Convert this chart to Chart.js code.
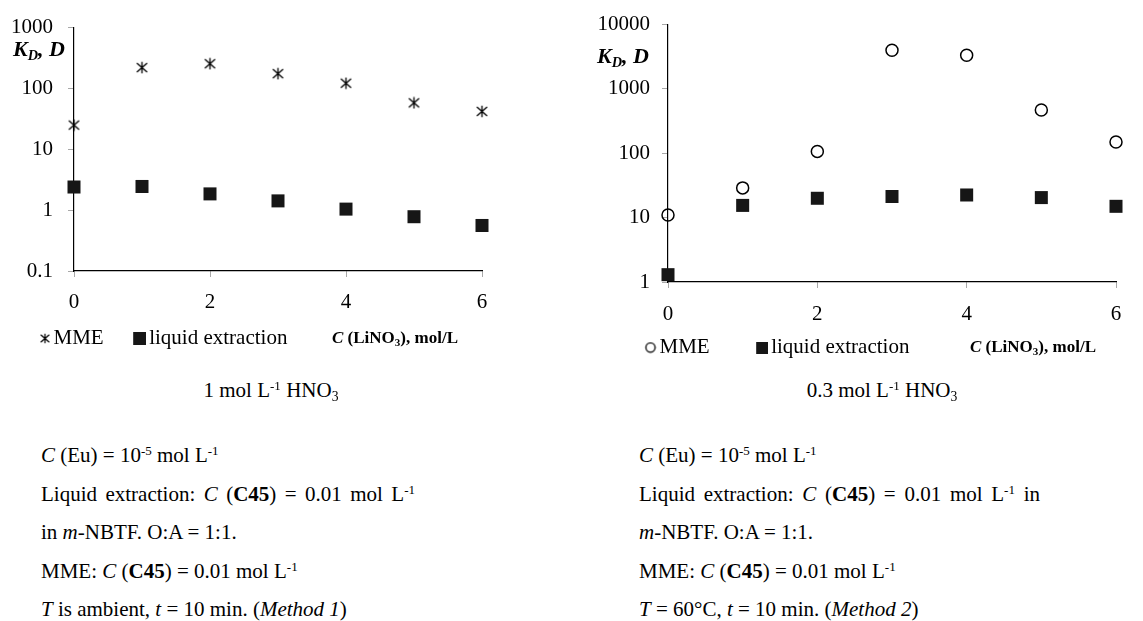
<!DOCTYPE html>
<html><head><meta charset="utf-8">
<script src="https://cdn.jsdelivr.net/npm/chart.js@4.4.1/dist/chart.umd.min.js"></script>
<style>
html,body{margin:0;padding:0;background:#fff;}
body{width:1143px;height:621px;position:relative;overflow:hidden;font-family:"Liberation Serif",serif;color:#000;}
canvas{position:absolute;}
.t{position:absolute;white-space:nowrap;font-size:21px;line-height:21px;}
sup{font-size:0.62em;line-height:0;vertical-align:baseline;position:relative;top:-0.55em;}
sub{font-size:0.65em;line-height:0;vertical-align:baseline;position:relative;top:0.3em;}
.ylab{font-weight:bold;font-style:italic;font-size:22px;line-height:22px;}
.xlab{font-weight:bold;font-size:17px;line-height:17px;}
.cap{text-align:center;width:400px;}
.notes{position:absolute;font-size:21px;line-height:38.5px;white-space:nowrap;}
.just{text-align:justify;text-align-last:justify;white-space:normal;}
</style></head>
<body>
<canvas id="c1" width="554" height="359" style="left:6px;top:0"></canvas>
<canvas id="c2" width="553" height="368" style="left:590px;top:0"></canvas>

<div class="t ylab" style="left:13px;top:37.6px"><b>K<sub>D</sub>, D</b></div>
<div class="t ylab" style="left:597px;top:45px"><b>K<sub>D</sub>, D</b></div>

<div class="t xlab" style="left:332px;top:329px"><i>C</i> (LiNO<sub>3</sub>), mol/L</div>
<div class="t xlab" style="left:970px;top:337.5px"><i>C</i> (LiNO<sub>3</sub>), mol/L</div>

<div class="t cap" style="left:71px;top:380.4px">1 mol L<sup>-1</sup> HNO<sub>3</sub></div>
<div class="t cap" style="left:682px;top:380.4px">0.3 mol L<sup>-1</sup> HNO<sub>3</sub></div>

<div class="notes" style="left:41px;top:436.4px">
<div><i>C</i> (Eu) = 10<sup>-5</sup> mol L<sup>-1</sup></div>
<div class="just" style="width:374px">Liquid extraction: <i>C</i> (<b>C45</b>) = 0.01 mol L<sup>-1</sup></div>
<div>in <i>m</i>-NBTF. O:A = 1:1.</div>
<div>MME: <i>C</i> (<b>C45</b>) = 0.01 mol L<sup>-1</sup></div>
<div><i>T</i> is ambient, <i>t</i> = 10 min. (<i>Method 1</i>)</div>
</div>

<div class="notes" style="left:639px;top:436.4px">
<div><i>C</i> (Eu) = 10<sup>-5</sup> mol L<sup>-1</sup></div>
<div class="just" style="width:401px">Liquid extraction: <i>C</i> (<b>C45</b>) = 0.01 mol L<sup>-1</sup> in</div>
<div><i>m</i>-NBTF. O:A = 1:1.</div>
<div>MME: <i>C</i> (<b>C45</b>) = 0.01 mol L<sup>-1</sup></div>
<div><i>T</i> = 60°C, <i>t</i> = 10 min. (<i>Method 2</i>)</div>
</div>

<script>
// ---- data ----
const xValues = [0, 1, 2, 3, 4, 5, 6];
const xTickValues = [0, 2, 4, 6];
const seriesNames = ['MME', 'liquid extraction'];

// Left panel: 1 mol/L HNO3
const leftMME = [25, 220, 255, 175, 122, 58, 42];
const leftLiquid = [2.4, 2.45, 1.85, 1.42, 1.04, 0.78, 0.56];
const leftYTicks = [0.1, 1, 10, 100, 1000];

// Right panel: 0.3 mol/L HNO3
const rightMME = [11, 29, 107, 4000, 3350, 470, 150];
const rightLiquid = [1.3, 15.5, 20, 21.3, 22.5, 20.5, 15];
const rightYTicks = [1, 10, 100, 1000, 10000];

// ---- marker icons (canvas w wide, marker drawn at its right end) ----
function mk(w, h) { const c = document.createElement('canvas'); c.width = w; c.height = h; return c; }
function asterisk(size, lw, w) {
  w = w || size;
  const c = mk(w, size); const g = c.getContext('2d');
  const m = w - size / 2, cy = size / 2, r = size / 2 - 0.8;
  g.strokeStyle = '#000'; g.lineWidth = lw;
  g.beginPath();
  g.moveTo(m, cy - r); g.lineTo(m, cy + r);
  g.moveTo(m - r * 0.9, cy - r * 0.8); g.lineTo(m + r * 0.9, cy + r * 0.8);
  g.moveTo(m - r * 0.9, cy + r * 0.8); g.lineTo(m + r * 0.9, cy - r * 0.8);
  g.stroke();
  return c;
}
function ring(size, rad, lw, w) {
  w = w || size;
  const c = mk(w, size); const g = c.getContext('2d');
  g.strokeStyle = '#000'; g.lineWidth = lw;
  g.beginPath(); g.arc(w - size / 2, size / 2, rad, 0, Math.PI * 2); g.stroke();
  return c;
}
function square(size, w) {
  w = w || size;
  const c = mk(w, size); const g = c.getContext('2d');
  g.fillStyle = '#161616'; g.fillRect(w - size, 0, size, size);
  return c;
}

Chart.defaults.font.family = '"Liberation Serif", serif';
Chart.defaults.font.size = 21;
Chart.defaults.color = '#000';

function pts(arr) { return xValues.map((x, i) => ({ x: x, y: arr[i] })); }

function makeChart(id, o) {
  const legendIcons = o.legendIcons;
  return new Chart(document.getElementById(id), {
    type: 'scatter',
    data: {
      datasets: [
        Object.assign({ label: seriesNames[0], data: pts(o.mme), clip: false }, o.mmeStyle),
        { label: seriesNames[1], data: pts(o.liq), clip: false, pointStyle: 'rect', pointRadius: 9.2,
          pointBackgroundColor: '#161616', pointBorderColor: '#161616', pointBorderWidth: 0 }
      ]
    },
    options: {
      responsive: false, animation: false, devicePixelRatio: 1,
      layout: { padding: { top: 23, right: o.padRight, bottom: 0, left: o.padLeft } },
      plugins: {
        tooltip: { enabled: false },
        legend: {
          position: 'bottom', align: 'start',
          labels: {
            usePointStyle: true, pointStyleWidth: o.boxW, boxWidth: o.boxW, padding: o.legendPad, color: '#000',
            font: { size: 21 },
            generateLabels: (chart) => chart.data.datasets.map((ds, i) => ({
              text: ds.label, pointStyle: legendIcons[i], hidden: false, datasetIndex: i,
              fillStyle: '#000', strokeStyle: '#000', lineWidth: 0, fontColor: '#000'
            }))
          }
        }
      },
      scales: {
        x: {
          type: 'linear', min: 0, max: 6,
          afterBuildTicks: (s) => { s.ticks = xTickValues.map(v => ({ value: v })); },
          afterFit: (s) => { s.height = o.xh; },
          grid: { display: true, drawOnChartArea: false, drawTicks: true, tickLength: 6, tickColor: '#a8a8a8', tickWidth: 1 },
          border: { display: true, color: '#000', width: 1.2 },
          ticks: { padding: o.xPad, color: '#000', maxRotation: 0, autoSkip: false, callback: (v) => String(v) }
        },
        y: {
          type: 'logarithmic', min: o.yTicks[0], max: o.yTicks[o.yTicks.length - 1],
          afterBuildTicks: (s) => { s.ticks = o.yTicks.map(v => ({ value: v })); },
          afterFit: (s) => { s.width = o.yw; },
          grid: { display: true, drawOnChartArea: false, drawTicks: true, tickLength: 6, tickColor: '#a8a8a8', tickWidth: 1 },
          border: { display: true, color: '#000', width: 1.2 },
          ticks: { padding: o.yPad, color: '#000', autoSkip: false, callback: (v) => String(v) }
        }
      }
    }
  });
}

// left: legend padding 11, box width 24 -> icon canvas width 39
makeChart('c1', {
  mme: leftMME, liq: leftLiquid, yTicks: leftYTicks,
  mmeStyle: { pointStyle: asterisk(13, 1.3), pointRadius: 7 },
  legendIcons: [asterisk(11, 1.2, 39), square(13, 39)],
  padLeft: 2, padRight: 78, yw: 66, xh: 46, xPad: 13, legendPad: 11, boxW: 24, yPad: 15
});
// right: legend padding 9, box width 42 -> icon canvas width 57
makeChart('c2', {
  mme: rightMME, liq: rightLiquid, yTicks: rightYTicks,
  mmeStyle: { pointStyle: 'circle', pointRadius: 6, pointBorderWidth: 1.5, pointBorderColor: '#000', pointBackgroundColor: 'rgba(0,0,0,0)' },
  legendIcons: [ring(12, 4.6, 1.3, 57), square(12, 57)],
  padLeft: 8, padRight: 27, yw: 70, xh: 46, xPad: 14, legendPad: 9, boxW: 42, yPad: 12
});
</script>
</body></html>
